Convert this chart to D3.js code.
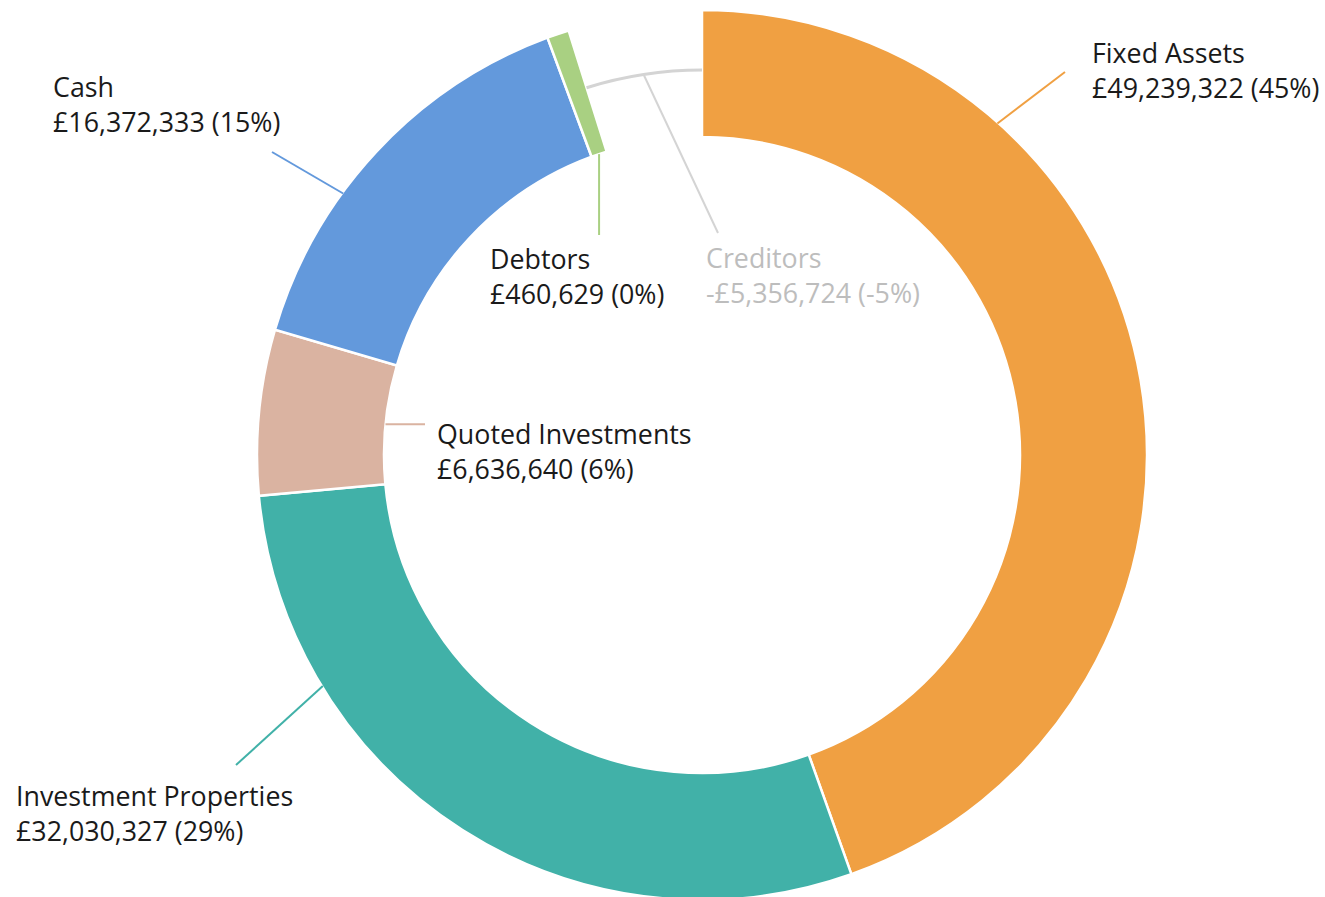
<!DOCTYPE html>
<html>
<head>
<meta charset="utf-8">
<script src="https://cdn.jsdelivr.net/npm/d3@7"></script>
<style>
  html, body { margin: 0; padding: 0; background: #fff; }
  svg text { font-family: "Open Sans", "Noto Sans", sans-serif; }
</style>
</head>
<body>
<div id="chart"></div>
<script>
// Balance sheet categories and values (GBP)
var categories = ["Fixed Assets", "Investment Properties", "Quoted Investments", "Cash", "Debtors", "Creditors"];
var values = [49239322, 32030327, 6636640, 16372333, 460629, -5356724];
var colors = ["#F0A042", "#41B1A8", "#DAB3A1", "#6399DC", "#A9D082", "#D4D4D4"];

// label placement: text position, leader end, where the leader leaves the slice
var labelLayout = [
    {x: 1092, y: 63, ex: 1065, ey: 72, at: 0.26, ring: "outer"},
    {x: 16, y: 806, ex: 236, ey: 765, at: 0.75, ring: "outer"},
    {x: 437, y: 444, ex: 425, ey: null, at: 0.5, ring: "inner"},
    {x: 53, y: 97, ex: 272, ey: 152, at: 0.37, ring: "outer"},
    {x: 490, y: 269, ex: null, ey: 235, at: 0.5, ring: "inner"},
    {x: 706, y: 268, ex: 718, ey: 233, at: 0.5, ring: "line"}
];

var width = 1325, height = 897;
var cx = 702, cy = 455;
var outerR = 445, innerR = 318, lineR = 385;

var data = categories.map(function(c, i) {
    return {name: c, value: values[i], color: colors[i], layout: labelLayout[i]};
});

var totalAbs = d3.sum(values, function(v) { return Math.abs(v); });
var fmt = d3.format(",");

function valueText(d) {
    var pct = Math.round(d.value / totalAbs * 100);
    var money = (d.value < 0 ? "-£" : "£") + fmt(Math.abs(d.value));
    return money + " (" + pct + "%)";
}

var svg = d3.select("#chart").append("svg")
    .attr("width", width)
    .attr("height", height);

svg.append("rect").attr("width", width).attr("height", height).attr("fill", "#fff");

var g = svg.append("g")
    .attr("transform", "translate(" + cx + "," + cy + ")");

// pie over absolute values, tiny slices get a small floor so they stay visible
var pie = d3.pie()
    .sort(null)
    .value(function(d) { return Math.max(Math.abs(d.value), totalAbs * 0.008); });

var arcs = pie(data);

var arc = d3.arc().innerRadius(innerR).outerRadius(outerR);
var thinArc = d3.arc().innerRadius(lineR - 1.5).outerRadius(lineR + 1.5);

g.selectAll("path.slice")
    .data(arcs)
    .enter().append("path")
    .attr("class", "slice")
    .attr("d", function(d) { return d.data.value < 0 ? thinArc(d) : arc(d); })
    .attr("fill", function(d) { return d.data.color; })
    .attr("stroke", function(d) { return d.data.value < 0 ? "none" : "#fff"; })
    .attr("stroke-width", 2.5);

function pointAt(angle, r) {
    return [cx + Math.sin(angle) * r, cy - Math.cos(angle) * r];
}

// leader lines
svg.selectAll("line.leader")
    .data(arcs)
    .enter().append("line")
    .attr("class", "leader")
    .each(function(d) {
        var L = d.data.layout;
        var a = d.startAngle + L.at * (d.endAngle - d.startAngle);
        var r = L.ring === "outer" ? outerR - 1 : (L.ring === "inner" ? innerR : lineR);
        var p = pointAt(a, r);
        var ex = L.ex === null ? p[0] : L.ex;
        var ey = L.ey === null ? p[1] : L.ey;
        d3.select(this)
            .attr("x1", p[0]).attr("y1", p[1])
            .attr("x2", ex).attr("y2", ey);
    })
    .attr("stroke", function(d) { return d.data.color; })
    .attr("stroke-width", 2);

// labels
var labels = svg.selectAll("text.label")
    .data(arcs)
    .enter().append("text")
    .attr("class", "label")
    .attr("font-size", 26.8)
    .attr("fill", function(d) { return d.data.value < 0 ? "#BDBDBD" : "#1A1A1A"; });

labels.append("tspan")
    .attr("x", function(d) { return d.data.layout.x; })
    .attr("y", function(d) { return d.data.layout.y; })
    .text(function(d) { return d.data.name; });

labels.append("tspan")
    .attr("x", function(d) { return d.data.layout.x; })
    .attr("y", function(d) { return d.data.layout.y + 35; })
    .text(function(d) { return valueText(d.data); });
</script>
</body>
</html>
